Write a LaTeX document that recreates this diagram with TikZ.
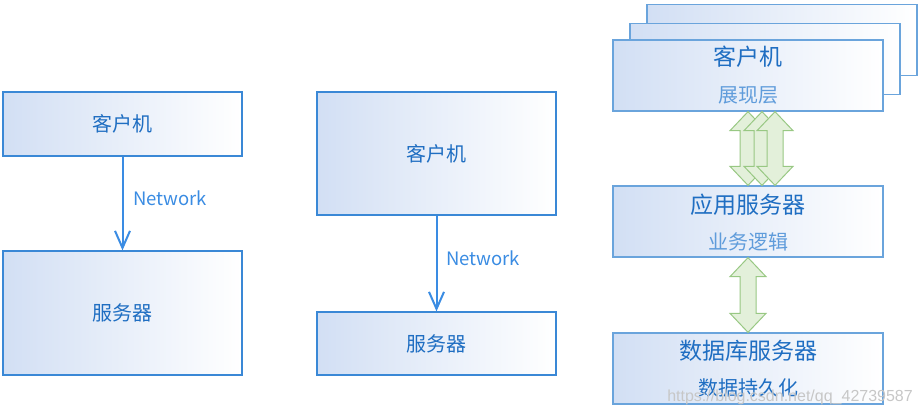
\documentclass[tikz,border=0pt]{standalone}
\usepackage{fontspec}
\setmainfont{Noto Sans CJK SC}
\newfontfamily\wmfont{Liberation Sans}
\usetikzlibrary{arrows.meta,calc}
\definecolor{txtblue}{HTML}{1F6EC2}
\definecolor{subblue}{HTML}{5F9CDB}
\definecolor{bordblue}{HTML}{3A88D6}
\definecolor{bordlight}{HTML}{6AA4DC}
\definecolor{arrblue}{HTML}{3A8CE3}
\definecolor{shadeL}{HTML}{D2DFF4}
\definecolor{shadeM}{HTML}{EEF3FB}
\definecolor{gfill}{HTML}{E3F0DA}
\definecolor{gdraw}{HTML}{98C883}
\tikzset{
  box/.style={draw=bordblue, line width=1.3pt, left color=shadeL, middle color=shadeM, right color=white, inner sep=0pt},
  rbox/.style={box, draw=bordlight, minimum width=270pt, minimum height=71pt},
  title/.style={text=txtblue, font=\fontsize{20}{22}\selectfont, inner sep=0pt},
  bigtitle/.style={text=txtblue, font=\fontsize{23}{25}\selectfont, inner sep=0pt},
  subtitle/.style={text=subblue, font=\fontsize{20}{22}\selectfont, inner sep=0pt},
  subdark/.style={text=txtblue, font=\fontsize{20}{22}\selectfont, inner sep=0pt},
  netlbl/.style={text=arrblue, font=\fontsize{18.5}{20}\selectfont, inner sep=0pt, anchor=west},
  barrow/.style={draw=arrblue, line width=2pt, -{Straight Barb[length=17pt,width=15pt,line width=2pt]}},
  garrow/.style={fill=gfill, draw=gdraw, line width=1pt, line join=miter},
}
\newcommand\dblarr[2]{%
  \filldraw[garrow] (#1) -- ($(#1)+(18,19)$) -- ($(#1)+(8,19)$) -- ($(#2)+(8,-19)$) -- ($(#2)+(18,-19)$) -- (#2)
   -- ($(#2)+(-18,-19)$) -- ($(#2)+(-8,-19)$) -- ($(#1)+(-8,19)$) -- ($(#1)+(-18,19)$) -- cycle;}
\begin{document}
\begin{tikzpicture}[x=1pt,y=-1pt]
\useasboundingbox (0,0) rectangle (921,416);
\fill[white] (0,0) rectangle (921,416);
% left column
\node[box, minimum width=239pt, minimum height=64pt] (l1) at (122.5,124) {};
\node[title] (l1t) at (l1) {客户机};
\node[box, minimum width=239pt, minimum height=124pt] (l2) at (122.5,313) {};
\node[title] (l2t) at (l2) {服务器};
\draw[barrow] (l1.south) -- (l2.north);
\node[netlbl] (l1n) at (133,198) {Network};
% middle column
\node[box, minimum width=239pt, minimum height=123pt] (m1) at (436.5,153.5) {};
\node[title] (m1t) at (m1) {客户机};
\node[box, minimum width=239pt, minimum height=63pt] (m2) at (436.5,343.5) {};
\node[title] (m2t) at (m2) {服务器};
\draw[barrow] (m1.south) -- (m2.north);
\node[netlbl] (m1n) at (446,258) {Network};
% right column
\node[rbox] (c3) at (782,40) {};
\node[rbox] (c2) at (765,59) {};
\node[rbox] (c1) at (748,75.5) {};
\node[bigtitle] (c1t) at (748,57) {客户机};
\node[subtitle] (c1s) at (748,95) {展现层};
\node[rbox] (app) at (748,221.5) {};
\node[bigtitle] (appt) at (748,205) {应用服务器};
\node[subtitle] (apps) at (748,242) {业务逻辑};
\node[rbox] (db) at (748,368.5) {};
\node[bigtitle] (dbt) at (748,351) {数据库服务器};
\node[subdark] (dbs) at (748,388) {数据持久化};
\coordinate (ta) at (c1.south); \coordinate (ba) at (app.north);
\coordinate (tb) at ($(c1.south)+(14,0)$); \coordinate (bb) at ($(app.north)+(14,0)$);
\coordinate (tc) at ($(c1.south)+(27,0)$); \coordinate (bc) at ($(app.north)+(27,0)$);
\dblarr{ta}{ba}
\dblarr{tb}{bb}
\dblarr{tc}{bc}
\coordinate (td) at (app.south); \coordinate (bd) at (db.north);
\dblarr{td}{bd}
% watermark
\node[text=black!22, font=\wmfont\fontsize{16}{18}\selectfont, inner sep=0pt, anchor=east] (wm) at (913,397) {https://blog.csdn.net/qq\_42739587};
\end{tikzpicture}
\end{document}
